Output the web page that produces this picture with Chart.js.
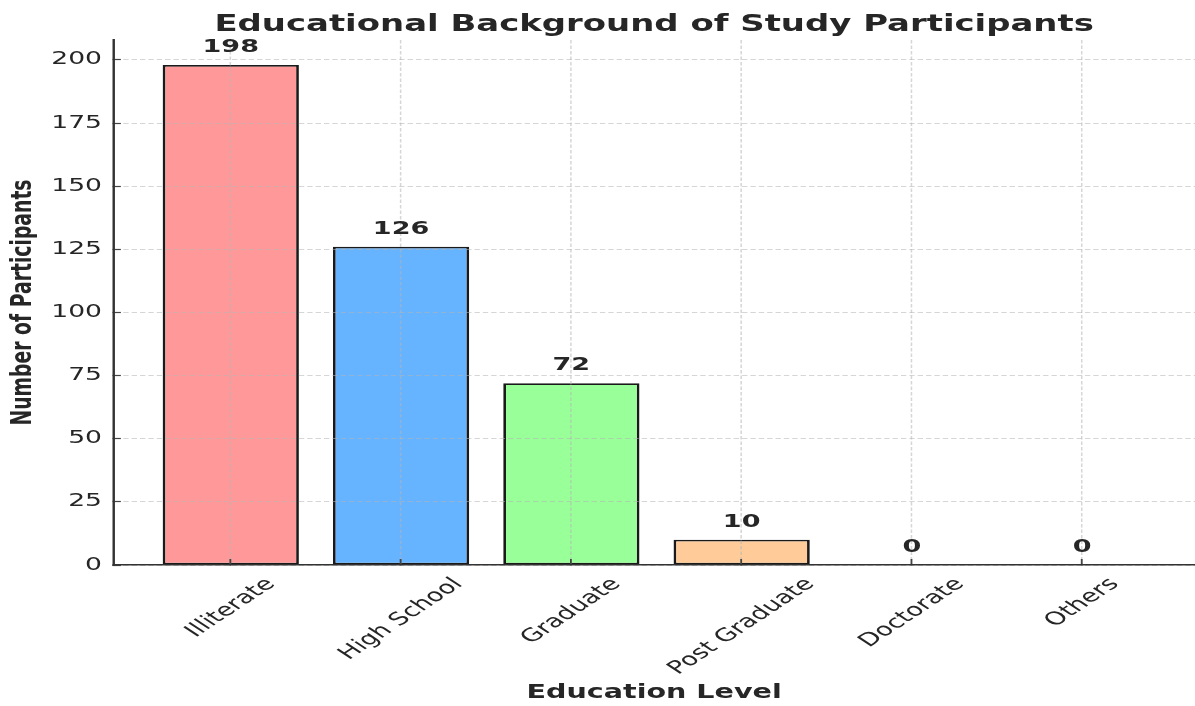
<!DOCTYPE html>
<html>
<head>
<meta charset="utf-8">
<script src="https://cdn.jsdelivr.net/npm/chart.js@4.4.1/dist/chart.umd.min.js"></script>
<style>
  html, body { margin: 0; padding: 0; background: #fff; }
</style>
</head>
<body>
<!-- the chart is laid out 786px wide and stretched to 1195px, like the reference -->
<canvas id="chart" width="786" height="706" style="width:1195px;height:706px"></canvas>
<script>
const categories = ['Illiterate', 'High School', 'Graduate', 'Post Graduate', 'Doctorate', 'Others'];
const participants = [198, 126, 72, 10, 0, 0];
const barColors = ['#ff9999', '#66b3ff', '#99ff99', '#ffcc99', '#c2c2f0', '#ffb3e6'];
const yTicks = [0, 25, 50, 75, 100, 125, 150, 175, 200];
const chartTitle = 'Educational Background of Study Participants';

const FONT = '"DejaVu Sans", sans-serif';
const TEXT = '#262626';
const STRETCH = 1195 / 786;

// bar value labels, x tick labels and title are drawn here
const extraText = {
  id: 'extraText',
  afterDraw(chart) {
    const { ctx, chartArea, scales: { x } } = chart;
    const meta = chart.getDatasetMeta(0);
    ctx.save();
    ctx.fillStyle = TEXT;
    ctx.textAlign = 'center';

    ctx.font = 'bold 17.8px ' + FONT;
    ctx.textBaseline = 'alphabetic';
    meta.data.forEach((bar, i) => {
      ctx.fillText(String(participants[i]), bar.x, bar.y - 13);
    });

    ctx.font = '18px ' + FONT;
    ctx.textBaseline = 'middle';
    categories.forEach((label, i) => {
      const w = ctx.measureText(label).width;
      const half = (w + 18 * 1.15) * Math.SQRT1_2 / 2;
      ctx.save();
      ctx.translate(x.getPixelForValue(i), x.top + 9 + half);
      ctx.rotate(-Math.PI / 4);
      ctx.fillText(label, 0, 0);
      ctx.restore();
    });

    ctx.font = 'bold 22.3px ' + FONT;
    ctx.textBaseline = 'alphabetic';
    ctx.fillText(chartTitle, (chartArea.left + chartArea.right) / 2, 31);
    ctx.restore();
  }
};

const canvas = document.getElementById('chart');
const chart = new Chart(canvas, {
  type: 'bar',
  data: {
    datasets: [{
      data: participants.map((v, i) => ({ x: i, y: v })),
      backgroundColor: barColors,
      borderColor: '#1a1a1a',
      borderWidth: 1.8,
      borderSkipped: false,
      barPercentage: 0.8,
      categoryPercentage: 1.0
    }]
  },
  options: {
    responsive: false,
    animation: false,
    devicePixelRatio: 1,
    layout: { padding: { top: 40, left: 0, right: 0, bottom: 0 } },
    plugins: {
      legend: { display: false },
      tooltip: { enabled: false },
      title: { display: false }
    },
    scales: {
      x: {
        type: 'linear',
        min: -0.69,
        max: 5.662,
        offset: false,
        afterBuildTicks: s => { s.ticks = categories.map((_, i) => ({ value: i })); },
        afterFit: s => { s.height = 141; },
        ticks: { display: false },
        grid: { offset: false, color: 'rgba(180,180,180,0.55)', lineWidth: 1, tickLength: -6, tickColor: '#444', tickWidth: 1.2, z: 1 },
        border: { color: '#333', width: 1.6, dash: [3.5, 2], z: 2 },
        title: {
          display: true,
          text: 'Education Level',
          color: TEXT,
          font: { family: FONT, size: 18.8, weight: 'bold' },
          padding: { top: 0, bottom: 2 }
        }
      },
      y: {
        min: 0,
        max: 207.9,
        afterBuildTicks: s => { s.ticks = yTicks.map(v => ({ value: v })); },
        afterFit: s => { s.width = 74.5; },
        ticks: { color: TEXT, font: { family: FONT, size: 17.5 }, padding: 12.4 },
        grid: { color: 'rgba(180,180,180,0.55)', lineWidth: 1, tickLength: -5, tickColor: '#444', tickWidth: 1.2, z: 1 },
        border: { color: '#333', width: 1.6, dash: [3.5, 2], z: 2 },
        title: {
          display: true,
          text: 'Number of Participants',
          color: TEXT,
          font: { family: FONT, size: 18.8, weight: 'bold' },
          padding: { top: 4, bottom: 0 }
        }
      }
    }
  },
  plugins: [extraText]
});

// redraw into a full-size backing store with a horizontal stretch
canvas.width = 1195;
chart.ctx.setTransform(STRETCH, 0, 0, 1, 0, 0);
chart.draw();
</script>
</body>
</html>
